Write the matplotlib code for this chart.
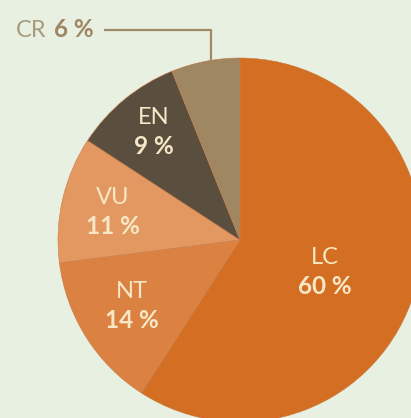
import matplotlib
matplotlib.use("Agg")
import matplotlib.pyplot as plt

# IUCN categories: slice shares read from the wedges, and the rounded labels
categories = ["LC", "NT", "VU", "EN", "CR"]
shares = [59.1, 13.9, 11.2, 9.7, 6.1]
share_labels = ["60 %", "14 %", "11 %", "9 %", "6 %"]
colors = ["#D36E22", "#DB8242", "#E39862", "#5A4E3E", "#9F8762"]

W, H = 411, 418
fig = plt.figure(figsize=(W / 100, H / 100), dpi=100)
fig.patch.set_facecolor("#E8F1E1")
ax = fig.add_axes([0, 0, 1, 1])
ax.set_facecolor("#E8F1E1")

cx, cy, r = 240, H - 240, 182
ax.pie(shares, colors=colors, startangle=90, counterclock=False,
       center=(cx, cy), radius=r,
       wedgeprops=dict(linewidth=0.4, edgecolor="#C97A45"))
ax.set_xlim(0, W)
ax.set_ylim(0, H)
ax.set_aspect("equal")
ax.axis("off")

font = "Lato"
cream = "#F6E8C6"
# label positions (pixel coords from top-left)
label_pos = {"LC": (325, 257, 287), "NT": (132, 292, 321),
             "VU": (113, 198, 227), "EN": (154, 118, 147)}
for cat, lab in zip(categories, share_labels):
    if cat not in label_pos:
        continue
    x, y1, y2 = label_pos[cat]
    ax.text(x, H - y1, cat, ha="center", va="center", fontsize=17,
            family=font, weight="normal", color=cream)
    ax.text(x, H - y2, lab, ha="center", va="center", fontsize=17.5,
            family=font, weight="bold", color=cream)

# CR label outside with leader line
ax.text(46, H - 37, "CR", ha="right", va="baseline", fontsize=17,
        family=font, weight="normal", color="#A99A7C")
ax.text(54, H - 37, share_labels[4], ha="left", va="baseline", fontsize=17.5,
        family=font, weight="bold", color="#9E8664")
ax.plot([104, 211, 211], [H - 30, H - 30, H - 62], color="#A08A67",
        linewidth=1.6, solid_capstyle="butt")

fig.savefig("out.png", dpi=100, facecolor=fig.get_facecolor())
